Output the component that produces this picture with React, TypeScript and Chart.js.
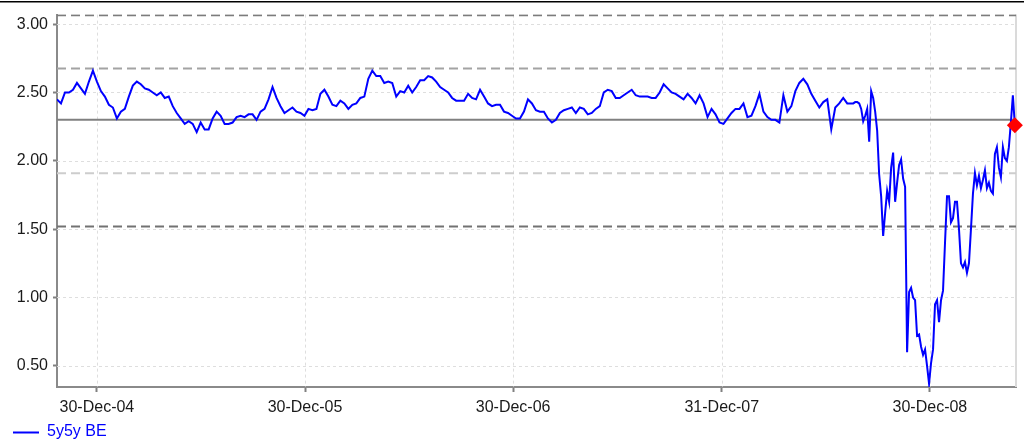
import React, { useEffect, useRef } from "react";
import { Chart, registerables } from "chart.js";

Chart.register(...registerables);

// x values are days relative to 30-Dec-2004
const WEEKLY_START_DAY = -70;
const WEEKLY_STEP = 7;
const weeklyValues = [
  2.45, 2.42, 2.50, 2.50, 2.52, 2.57, 2.53, 2.49, 2.58, 2.66,
  2.58, 2.51, 2.47, 2.41, 2.39, 2.31, 2.36, 2.38, 2.47, 2.55,
  2.58, 2.56, 2.53, 2.52, 2.50, 2.48, 2.50, 2.46, 2.47, 2.40,
  2.35, 2.31, 2.27, 2.29, 2.27, 2.21, 2.28, 2.23, 2.23, 2.31,
  2.36, 2.33, 2.27, 2.27, 2.28, 2.32, 2.33, 2.32, 2.34, 2.34,
  2.30, 2.36,
  2.38, 2.45, 2.54, 2.46, 2.40, 2.35, 2.37, 2.39, 2.36, 2.35,
  2.33, 2.38, 2.37, 2.38, 2.49, 2.52, 2.47, 2.41, 2.40, 2.44,
  2.42, 2.38, 2.41, 2.42, 2.46, 2.47, 2.60, 2.66, 2.62, 2.62,
  2.57, 2.58, 2.57, 2.47, 2.51, 2.50, 2.55, 2.50, 2.54, 2.59,
  2.59, 2.62, 2.61, 2.58, 2.54, 2.52, 2.50, 2.46, 2.44, 2.44,
  2.44, 2.49, 2.46, 2.45, 2.52, 2.47, 2.42, 2.40, 2.41, 2.41,
  2.36,
  2.35, 2.33, 2.31, 2.31, 2.36, 2.45, 2.42, 2.37, 2.36, 2.36,
  2.31, 2.28, 2.30, 2.35, 2.37, 2.38, 2.39, 2.35, 2.39, 2.38,
  2.34, 2.35, 2.38, 2.40, 2.50, 2.52, 2.51, 2.46, 2.46, 2.48,
  2.50, 2.52, 2.48, 2.47, 2.47, 2.47, 2.46, 2.46, 2.50, 2.56,
  2.53, 2.50, 2.49, 2.47, 2.45, 2.49, 2.46, 2.42, 2.48, 2.42,
  2.32, 2.38, 2.34, 2.28, 2.27, 2.31, 2.35, 2.38, 2.38, 2.42,
  2.32, 2.33, 2.40, 2.49, 2.36, 2.32, 2.30, 2.30, 2.28, 2.48,
  2.36, 2.40, 2.51, 2.57, 2.60, 2.56, 2.49, 2.44, 2.39, 2.43,
  2.45, 2.23, 2.39, 2.42, 2.46, 2.42, 2.42,
];

const LATE_START_DAY = 1326.5;
const LATE_STEP = 3.5;
const lateValues = [
  2.42, 2.43, 2.43, 2.42, 2.38, 2.29, 2.33, 2.38, 2.14, 2.51,
  2.46, 2.36, 2.22, 1.90, 1.74, 1.45, 1.62, 1.78, 1.70, 1.95,
  2.06, 1.70, 1.84, 1.97, 2.01, 1.87, 1.81, 0.60, 1.04, 1.07,
  1.00, 0.98, 0.72, 0.73, 0.64, 0.58, 0.62, 0.50, 0.37, 0.52,
  0.62, 0.95, 0.98, 0.82, 0.98, 1.05, 1.40, 1.74, 1.74, 1.55,
  1.58, 1.70, 1.70, 1.50, 1.25, 1.22, 1.26, 1.18, 1.25, 1.50,
  1.76, 1.91, 1.82, 1.89, 1.80, 1.86, 1.93, 1.80, 1.84, 1.78,
  1.76, 2.05, 2.10, 1.95, 1.88, 2.10, 2.02, 2.00, 2.10, 2.28,
  2.48, 2.26,
];

const X_MIN_DAY = -70;
const X_MAX_DAY = 1612;
const Y_MIN = 0.345;
const Y_MAX = 3.07;

const tickDays = [0, 365, 730, 1096, 1461];
const tickLabels = ["30-Dec-04", "30-Dec-05", "30-Dec-06", "31-Dec-07", "30-Dec-08"];
const yTickValues = [0.5, 1.0, 1.5, 2.0, 2.5, 3.0];

const refLevels = [3.065, 2.675, 2.3, 1.91, 1.52];
const refColors = ["#7c7c7c", "#a3a3a3", "#808080", "#cdcdcd", "#727272"];
const refDashes = [[9, 5], [9, 5], [], [9, 5], [9, 5]];

const seriesName = "5y5y BE";
const seriesColor = "#0000ff";
const markerColor = "#ff0000";

const FONT = 'Arial, "Liberation Sans", sans-serif';

export default function App() {
  const canvasRef = useRef<HTMLCanvasElement | null>(null);

  useEffect(() => {
    document.body.style.margin = "0";
    const canvas = canvasRef.current;
    if (!canvas) return;

    const seriesData: { x: number; y: number }[] = [];
    weeklyValues.forEach((v, i) => seriesData.push({ x: WEEKLY_START_DAY + i * WEEKLY_STEP, y: v }));
    lateValues.forEach((v, i) => seriesData.push({ x: LATE_START_DAY + i * LATE_STEP, y: v }));
    const last = seriesData[seriesData.length - 1];

    const refDatasets = refLevels.map((lvl, i) => ({
      label: "ref" + i,
      data: [
        { x: X_MIN_DAY, y: lvl },
        { x: X_MAX_DAY, y: lvl },
      ],
      borderColor: refColors[i],
      borderWidth: 2,
      borderDash: refDashes[i],
      pointRadius: 0,
      fill: false,
      order: 3,
    }));

    const decorPlugin = {
      id: "decor",
      beforeDatasetsDraw(chart: any) {
        const { ctx, chartArea, scales } = chart;
        const { left, right, top, bottom } = chartArea;
        ctx.save();
        ctx.strokeStyle = "#dedede";
        ctx.lineWidth = 1;
        ctx.setLineDash([3, 3]);
        scales.x.ticks.forEach((t: any) => {
          const px = Math.round(scales.x.getPixelForValue(t.value)) + 0.5;
          ctx.beginPath();
          ctx.moveTo(px, top);
          ctx.lineTo(px, bottom);
          ctx.stroke();
        });
        scales.y.ticks.forEach((t: any) => {
          const py = Math.round(scales.y.getPixelForValue(t.value)) + 0.5;
          ctx.beginPath();
          ctx.moveTo(left, py);
          ctx.lineTo(right, py);
          ctx.stroke();
        });
        ctx.setLineDash([]);
        ctx.strokeStyle = "#dadada";
        ctx.lineWidth = 2;
        ctx.beginPath();
        ctx.moveTo(right, top);
        ctx.lineTo(right, bottom);
        ctx.stroke();
        ctx.restore();
      },
      afterDraw(chart: any) {
        const { ctx } = chart;
        ctx.save();
        // top rule
        ctx.fillStyle = "#000000";
        ctx.fillRect(0, 1, chart.width, 1.5);
        // legend
        ctx.strokeStyle = seriesColor;
        ctx.lineWidth = 2;
        ctx.beginPath();
        ctx.moveTo(13, 432.5);
        ctx.lineTo(39, 432.5);
        ctx.stroke();
        ctx.fillStyle = seriesColor;
        ctx.font = "16px " + FONT;
        ctx.textBaseline = "middle";
        ctx.textAlign = "left";
        ctx.fillText(seriesName, 47, 432);
        ctx.restore();
      },
    };

    const chart = new Chart(canvas, {
      type: "line",
      data: {
        datasets: [
          {
            label: "marker",
            data: [{ x: last.x, y: last.y }],
            showLine: false,
            pointStyle: "rectRot",
            pointRadius: 8,
            pointBackgroundColor: markerColor,
            pointBorderColor: markerColor,
            pointBorderWidth: 0,
            clip: false,
            order: 0,
          } as any,
          {
            label: seriesName,
            data: seriesData,
            borderColor: seriesColor,
            borderWidth: 2,
            pointRadius: 0,
            fill: false,
            tension: 0,
            order: 1,
          },
          ...refDatasets,
        ],
      },
      plugins: [decorPlugin],
      options: {
        animation: false,
        responsive: false,
        devicePixelRatio: 1,
        layout: { padding: { top: 13, right: 8, bottom: 0, left: 0 } },
        plugins: {
          legend: { display: false },
          tooltip: { enabled: false },
          title: { display: false },
        },
        scales: {
          x: {
            type: "linear",
            min: X_MIN_DAY,
            max: X_MAX_DAY,
            afterBuildTicks: (scale: any) => {
              scale.ticks = tickDays.map((d) => ({ value: d }));
            },
            afterFit: (scale: any) => {
              scale.height = 55;
            },
            ticks: {
              autoSkip: false,
              maxRotation: 0,
              minRotation: 0,
              padding: 6,
              color: "#1a1a1a",
              font: { family: FONT, size: 16 },
              callback: (value: any) => {
                const idx = tickDays.indexOf(Number(value));
                return idx >= 0 ? tickLabels[idx] : "";
              },
            },
            grid: {
              drawOnChartArea: false,
              drawTicks: true,
              tickLength: 5,
              tickColor: "#808080",
              tickWidth: 2,
            },
            border: { display: true, color: "#8a8a8a", width: 2 },
          },
          y: {
            type: "linear",
            min: Y_MIN,
            max: Y_MAX,
            afterBuildTicks: (scale: any) => {
              scale.ticks = yTickValues.map((v) => ({ value: v }));
            },
            afterFit: (scale: any) => {
              scale.width = 57;
            },
            ticks: {
              padding: 5,
              color: "#1a1a1a",
              font: { family: FONT, size: 16 },
              callback: (value: any) => Number(value).toFixed(2),
            },
            grid: {
              drawOnChartArea: false,
              drawTicks: true,
              tickLength: 4,
              tickColor: "#808080",
              tickWidth: 2,
            },
            border: { display: true, color: "#8a8a8a", width: 2 },
          },
        },
      } as any,
    });

    return () => {
      chart.destroy();
    };
  }, []);

  return (
    <div style={{ position: "absolute", left: 0, top: 0, width: 1024, height: 442, background: "#ffffff" }}>
      <canvas ref={canvasRef} width={1024} height={442} style={{ width: 1024, height: 442, display: "block" }} />
    </div>
  );
}
